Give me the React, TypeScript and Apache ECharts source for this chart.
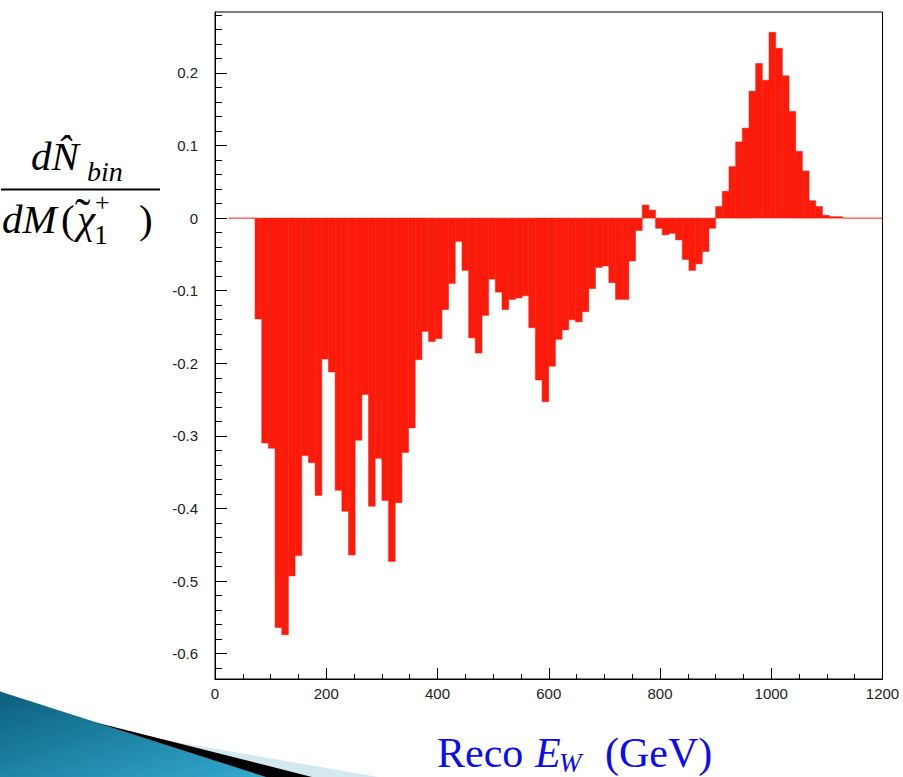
import React, { useEffect, useRef } from "react";
import * as echarts from "echarts";

// ---- data ----
const BIN_WIDTH = 12; // GeV per bin, 100 bins over 0..1200
const binValues: (number | null)[] = [
  null, null, 0, 0, 0, 0, -0.139, -0.31, -0.317, -0.564,
  -0.574, -0.493, -0.465, -0.327, -0.337, -0.382, -0.194, -0.212, -0.375, -0.404,
  -0.464, -0.306, -0.243, -0.397, -0.331, -0.389, -0.473, -0.392, -0.323, -0.289,
  -0.195, -0.156, -0.17, -0.166, -0.126, -0.09, -0.032, -0.072, -0.165, -0.186,
  -0.134, -0.084, -0.102, -0.126, -0.112, -0.11, -0.107, -0.151, -0.223, -0.253,
  -0.204, -0.167, -0.154, -0.14, -0.143, -0.129, -0.097, -0.068, -0.066, -0.089,
  -0.112, -0.112, -0.059, -0.017, 0.018, 0.011, -0.014, -0.023, -0.021, -0.03,
  -0.057, -0.072, -0.063, -0.046, -0.014, 0.016, 0.037, 0.071, 0.105, 0.124,
  0.175, 0.213, 0.19, 0.256, 0.234, 0.196, 0.147, 0.092, 0.065, 0.024,
  0.016, 0.004, 0.002, 0.002, 0, 0, 0, 0, 0, 0,
];
const X_RANGE = [0, 1200];
const X_TICK_STEP = 200;
const Y_RANGE = [-0.635, 0.284];
const Y_MAJOR = [-0.6, 0.2, 0.1]; // first, last, step of labelled ticks
const Y_MINOR = [-0.62, 0.28, 0.02]; // first, last, step of minor ticks

// ---- layout ----
const W = 903;
const H = 777;
const G = { left: 215, top: 12, right: 20.5, bottom: 98 };
const RED = "#fc1a0a";
const SERIF = '"Liberation Serif", "Times New Roman", serif';
const SANS = '"Liberation Sans", Arial, sans-serif';

const ppu = (H - G.top - G.bottom) / (Y_RANGE[1] - Y_RANGE[0]);
const yPx = (v: number) => G.top + (Y_RANGE[1] - v) * ppu;

function serifText(
  text: string,
  x: number,
  baseline: number,
  size: number,
  italic: boolean,
  color: string
) {
  return {
    type: "text",
    x,
    y: baseline - 0.3375 * size,
    silent: true,
    style: {
      text,
      font: `${italic ? "italic " : ""}${size}px ${SERIF}`,
      fill: color,
      textAlign: "left",
      textVerticalAlign: "middle",
      align: "left",
      verticalAlign: "middle",
    },
  };
}

export default function App() {
  const ref = useRef<HTMLDivElement>(null);

  useEffect(() => {
    if (!ref.current) return;
    const chart = echarts.init(ref.current, undefined, { renderer: "svg" });

    const data = binValues
      .map((v, i) => (v === null ? null : [i * BIN_WIDTH, (i + 1) * BIN_WIDTH, v]))
      .filter((d) => d !== null);

    const tickColor = "#000";
    const labelFont = { fontSize: 15, color: "#222", fontFamily: SANS };
    const hiddenX = (gridIndex: number) => ({
      gridIndex,
      type: "value",
      min: X_RANGE[0],
      max: X_RANGE[1],
      show: false,
    });

    const BLUE = "#0c0cf2";
    const BLACK = "#000";

    const option: any = {
      animation: false,
      backgroundColor: "#fff",
      grid: [
        {
          left: G.left,
          right: G.right,
          top: G.top,
          bottom: G.bottom,
          show: true,
          borderColor: "#000",
          borderWidth: 1,
          backgroundColor: "transparent",
        },
        {
          left: G.left,
          right: G.right,
          top: yPx(Y_MAJOR[1]),
          bottom: H - yPx(Y_MAJOR[0]),
        },
        {
          left: G.left,
          right: G.right,
          top: yPx(Y_MINOR[1]),
          bottom: H - yPx(Y_MINOR[0]),
        },
      ],
      xAxis: [
        {
          gridIndex: 0,
          type: "value",
          min: X_RANGE[0],
          max: X_RANGE[1],
          interval: X_TICK_STEP,
          axisLine: { show: true, onZero: false, lineStyle: { color: "#000", width: 1 } },
          axisTick: { show: true, inside: true, length: 11, lineStyle: { color: tickColor, width: 1 } },
          minorTick: { show: true, splitNumber: 4, length: 5, lineStyle: { color: tickColor, width: 1 } },
          axisLabel: { ...labelFont, margin: 7, formatter: (v: number) => String(v) },
          splitLine: { show: false },
          minorSplitLine: { show: false },
        },
        hiddenX(1),
        hiddenX(2),
      ],
      yAxis: [
        {
          gridIndex: 0,
          type: "value",
          min: Y_RANGE[0],
          max: Y_RANGE[1],
          axisLine: { show: true, onZero: false, lineStyle: { color: "#000", width: 1 } },
          axisTick: { show: false },
          axisLabel: { show: false },
          splitLine: { show: false },
        },
        {
          gridIndex: 1,
          type: "value",
          min: Y_MAJOR[0],
          max: Y_MAJOR[1],
          interval: Y_MAJOR[2],
          axisLine: { show: false },
          axisTick: { show: true, inside: true, length: 12, lineStyle: { color: tickColor, width: 1 } },
          axisLabel: {
            ...labelFont,
            margin: 17,
            formatter: (v: number) => (Math.abs(v) < 1e-9 ? "0" : String(Math.round(v * 10) / 10)),
          },
          splitLine: { show: false },
        },
        {
          gridIndex: 2,
          type: "value",
          min: Y_MINOR[0],
          max: Y_MINOR[1],
          interval: Y_MINOR[2],
          axisLine: { show: false },
          axisTick: { show: true, inside: true, length: 7, lineStyle: { color: tickColor, width: 1 } },
          axisLabel: { show: false },
          splitLine: { show: false },
        },
      ],
      series: [
        {
          type: "custom",
          xAxisIndex: 0,
          yAxisIndex: 0,
          clip: true,
          encode: { x: [0, 1], y: 2 },
          data,
          renderItem: (params: any, api: any) => {
            const x0 = api.value(0);
            const x1 = api.value(1);
            const v = api.value(2);
            const p0 = api.coord([x0, 0]);
            const p1 = api.coord([x1, v]);
            if (v === 0) {
              return {
                type: "line",
                shape: { x1: p0[0], y1: p0[1], x2: p1[0], y2: p0[1] },
                style: { stroke: RED, lineWidth: 1 },
              };
            }
            return {
              type: "rect",
              shape: {
                x: p0[0],
                y: Math.min(p0[1], p1[1]),
                width: p1[0] - p0[0],
                height: Math.abs(p1[1] - p0[1]),
              },
              style: { fill: RED, stroke: RED, lineWidth: 0.5 },
            };
          },
        },
      ],
      graphic: [
        // slide decoration (bottom-left swoosh)
        {
          type: "polygon",
          silent: true,
          shape: { points: [[145, 736.5], [378, 777], [312, 777]] },
          style: { fill: "#d3e8ef" },
        },
        {
          type: "polygon",
          silent: true,
          shape: { points: [[0, 691.5], [267, 777], [0, 777]] },
          style: {
            fill: {
              type: "linear",
              x: 0,
              y: 0,
              x2: 1,
              y2: 1,
              colorStops: [
                { offset: 0, color: "#0b5f7c" },
                { offset: 1, color: "#33a9cf" },
              ],
            },
          },
        },
        {
          type: "polygon",
          silent: true,
          shape: { points: [[96, 722.5], [312, 777], [266, 777]] },
          style: { fill: "#000" },
        },
        // x-axis title: Reco E_W (GeV)
        serifText("Reco", 437, 767, 42, false, BLUE),
        serifText("E", 535, 767, 42, true, BLUE),
        serifText("W", 559, 772, 27, true, BLUE),
        serifText("(GeV)", 605, 767, 42, false, BLUE),
        // y-axis title: dN̂_bin / dM(χ̃₁⁺)
        serifText("dN\u0302", 31, 170, 41, true, BLACK),
        serifText("bin", 87, 181, 28, true, BLACK),
        {
          type: "line",
          silent: true,
          shape: { x1: 1, y1: 189.5, x2: 160, y2: 189.5 },
          style: { stroke: "#000", lineWidth: 2 },
        },
        serifText("dM", 2, 233, 41, true, BLACK),
        serifText("(", 61, 233, 41, false, BLACK),
        serifText("\u03C7", 77, 233, 41, true, BLACK),
        serifText("\u02DC", 75, 230, 46, false, BLACK),
        serifText("+", 95, 211.5, 26, false, BLACK),
        serifText("1", 94, 244, 28, false, BLACK),
        serifText(")", 139, 233, 41, false, BLACK),
      ],
    };

    chart.setOption(option);
    return () => chart.dispose();
  }, []);

  return (
    <div
      ref={ref}
      style={{ position: "fixed", left: 0, top: 0, width: W, height: H, background: "#fff" }}
    />
  );
}
